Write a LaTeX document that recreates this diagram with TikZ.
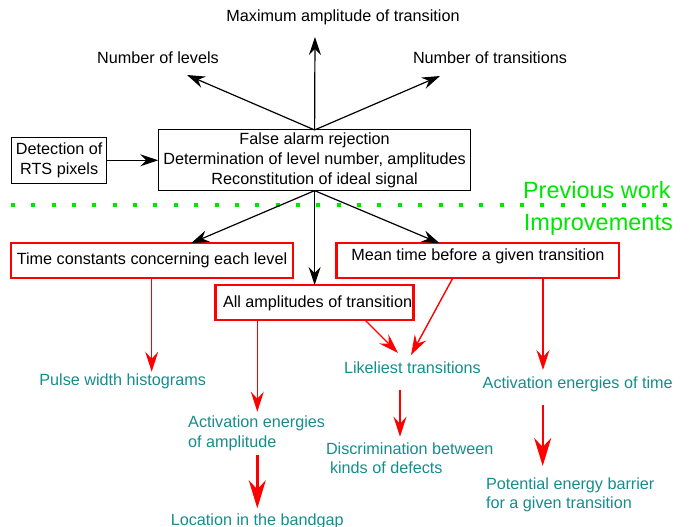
\documentclass[tikz,border=0pt]{standalone}
\usepackage{fontspec}
\setmainfont{Liberation Sans}
\usetikzlibrary{arrows.meta}
\definecolor{tealtxt}{RGB}{22,140,140}
\definecolor{redl}{RGB}{255,0,0}
\definecolor{grn}{RGB}{0,230,0}
\begin{document}
\begin{tikzpicture}[x=1pt,y=-1pt,
  every node/.style={inner sep=0pt, outer sep=0pt, font=\fontsize{16.2}{19.7}\selectfont},
  blk/.style={draw=black, line width=1pt},
  redbox/.style={draw=redl, line width=2.2pt},
  barrow/.style={line width=1.2pt, -{Stealth[length=18pt,width=12pt,inset=6pt]}},
  rarrow/.style={draw=redl, line width=1.4pt, -{Stealth[length=20pt,width=13pt,inset=7pt]}},
  rthick/.style={draw=redl, line width=2.4pt, -{Stealth[length=28pt,width=17pt,inset=9pt]}},
  tl/.style={text=tealtxt},
  gl/.style={text=grn, font=\fontsize{23.5}{28}\selectfont}]
\useasboundingbox (0,0) rectangle (689,527);
\clip (0,0) rectangle (689,527);

% top part
\node[anchor=base] (maxamp) at (343,22) {Maximum amplitude of transition};
\node[anchor=base] (levels) at (158,63.5) {Number of levels};
\node[anchor=base] (ntrans) at (490,63.5) {Number of transitions};
\node[blk, minimum width=312.7pt, minimum height=60.7pt, align=center] (main) at (314.6,160.3)
  {False alarm rejection\\Determination of level number, amplitudes\\Reconstitution of ideal signal};
\node[blk, minimum width=95pt, minimum height=46pt, align=center] (detect) at (59.2,160.3)
  {Detection of\\RTS pixels};

\coordinate (tUp) at (315,37);
\coordinate (tL) at (187,75);
\coordinate (tR) at (440,76);
\draw[barrow] (main.north) -- (tUp);
\draw[barrow] (main.north) -- (tL);
\draw[barrow] (main.north) -- (tR);
\draw[barrow] (detect.east) -- (main.west |- detect.east);

% separator
\coordinate (dL) at (10.8,205);
\coordinate (dR) at (670,205);
\draw[draw=grn, line width=4pt, dash pattern=on 4pt off 16.37pt] (dL) -- (dR);
\node[gl, anchor=base east] (prev) at (670.6,198.6) {Previous work};
\node[gl, anchor=base east] (impr) at (672.8,230) {Improvements};

% red boxes
\node[redbox, minimum width=282.7pt, minimum height=34.4pt] (b1) at (152,260.5) {Time constants concerning each level};
\node[redbox, minimum width=282.8pt, minimum height=34.4pt] (b2) at (477.8,260.5) {};
\node[anchor=base] (b2t) at (477.8,260.7) {Mean time before a given transition};
\node[redbox, minimum width=197.9pt, minimum height=35pt] (b3) at (314.5,302.5) {};
\node[anchor=base west] (b3t) at (223,307.3) {All amplitudes of transition};

\coordinate (b1in) at (191,243.3);
\coordinate (b2in) at (439.7,243.3);
\draw[barrow] (main.south) -- (b1in);
\draw[barrow] (main.south) -- (main.south |- b3.north);
\draw[barrow] (main.south) -- (b2in);

% teal results
\node[tl, anchor=base] (pulse) at (122.7,385) {Pulse width histograms};
\node[tl, anchor=base west] (actamp1) at (188.2,427.3) {Activation energies};
\node[tl, anchor=base west] (actamp2) at (188.2,447.3) {of amplitude};
\node[tl, anchor=base] (loc) at (257.3,525.7) {Location in the bandgap};
\node[tl, anchor=base west] (likely) at (344,373.3) {Likeliest transitions};
\node[tl, anchor=base west] (disc1) at (326,454.3) {Discrimination between};
\node[tl, anchor=base west] (disc2) at (330,473.3) {kinds of defects};
\node[tl, anchor=base west] (acttime) at (482.7,388.3) {Activation energies of time};
\node[tl, anchor=base west] (pot1) at (486,489.3) {Potential energy barrier};
\node[tl, anchor=base west] (pot2) at (486,508.3) {for a given transition};

% red arrows
\coordinate (p1) at (151.7,371.7);
\draw[rarrow] (b1.south -| p1) -- (p1);
\coordinate (p2) at (257.3,411.7);
\draw[rarrow] (b3.south -| p2) -- (p2);
\coordinate (p3s) at (257.3,455);
\coordinate (p3) at (257.3,508.3);
\draw[rthick] (p3s) -- (p3);
\coordinate (p4s) at (365,320);
\coordinate (p4) at (398,353);
\draw[rarrow] (p4s) -- (p4);
\coordinate (p5s) at (453,277.7);
\coordinate (p5) at (411,355);
\draw[rarrow] (p5s) -- (p5);
\coordinate (p6s) at (400,390);
\coordinate (p6) at (400,436.7);
\draw[rarrow] (p6s) -- (p6);
\coordinate (p7) at (543,370);
\draw[rarrow] (b2.south -| p7) -- (p7);
\coordinate (p8s) at (542.7,405);
\coordinate (p8) at (542.7,466);
\draw[rthick] (p8s) -- (p8);
\end{tikzpicture}
\end{document}
